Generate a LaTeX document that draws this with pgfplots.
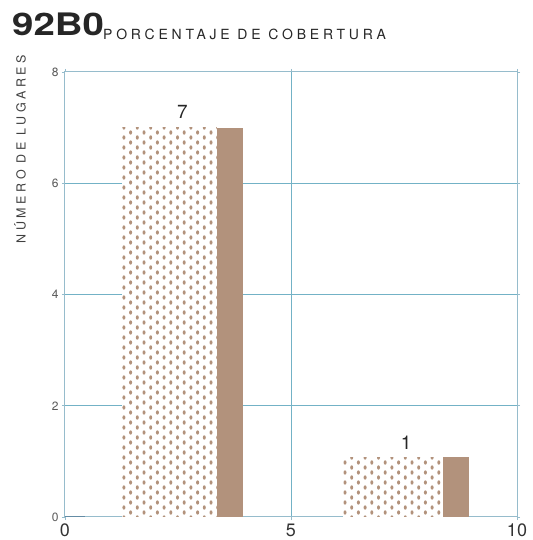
\documentclass[border=0pt]{standalone}
\usepackage{pgfplots}
\pgfplotsset{compat=1.18}
\usepackage{fontspec}
\setmainfont{TeX Gyre Heros}
\usetikzlibrary{patterns}
\definecolor{barbrown}{RGB}{178,146,124}
\definecolor{framec}{RGB}{150,188,204}
\definecolor{gridc}{RGB}{115,178,198}
\definecolor{zeroc}{RGB}{100,140,165}
\pgfdeclarepatternformonly{bdots}{\pgfqpoint{-1pt}{-1pt}}{\pgfqpoint{14.4pt}{11pt}}{\pgfqpoint{13.4pt}{10pt}}{%
  \pgfpathellipse{\pgfqpoint{3.3pt}{2.5pt}}{\pgfqpoint{1.5pt}{0pt}}{\pgfqpoint{0pt}{2.2pt}}\pgfusepath{fill}%
  \pgfpathellipse{\pgfqpoint{10pt}{7.5pt}}{\pgfqpoint{1.5pt}{0pt}}{\pgfqpoint{0pt}{2.2pt}}\pgfusepath{fill}%
}
\begin{document}
\begin{tikzpicture}
\useasboundingbox (-65pt,-23pt) rectangle (467pt,517pt);
\begin{axis}[
  scale only axis, width=452pt, height=445pt,
  xmin=0, xmax=10, ymin=0, ymax=8,
  xtick={0,5,10}, ytick={0,2,4,6,8},
  xmajorgrids, ymajorgrids,
  major grid style={draw=gridc, line width=1pt},
  axis line style={draw=framec, line width=1pt},
  tick style={draw=framec, line width=0.8pt},
  tick align=outside, major tick length=3pt,
  xticklabel style={font=\fontsize{18}{18}\selectfont, text=black!80},
  yticklabel style={font=\fontsize{12}{12}\selectfont, text=black!65},
  /pgf/number format/assume math mode=true,
  clip=false,
]
\addplot[draw=none, fill=white, postaction={pattern=bdots, pattern color=barbrown}] coordinates {(1.26,0) (1.26,7) (3.36,7) (3.36,0)} -- cycle;
\addplot[draw=none, fill=barbrown] coordinates {(3.36,0) (3.36,7) (3.94,7) (3.94,0)} -- cycle;
\addplot[draw=none, fill=white, postaction={pattern=bdots, pattern color=barbrown}] coordinates {(6.15,0) (6.15,1.07) (8.36,1.07) (8.36,0)} -- cycle;
\addplot[draw=none, fill=barbrown] coordinates {(8.36,0) (8.36,1.07) (8.94,1.07) (8.94,0)} -- cycle;
\addplot[draw=zeroc, line width=1pt] coordinates {(0,0) (0.45,0)};
\node[anchor=south, font=\fontsize{19}{19}\selectfont, text=black!85] at (axis cs:2.6,7.1) {7};
\node[anchor=south, font=\fontsize{19}{19}\selectfont, text=black!85] at (axis cs:7.55,1.15) {1};
\end{axis}
\node[anchor=base west, inner sep=0pt, text=black!85] at (-53pt,481pt) {\scalebox{1.24}[1]{\fontsize{31}{31}\selectfont\bfseries 92B0}};
\node[anchor=base west, inner sep=0pt, font=\fontsize{14}{14}\selectfont\addfontfeatures{LetterSpace=27}, text=black!85] at (38pt,477pt) {PORCENTAJE DE COBERTURA};
\node[rotate=90, anchor=east, inner sep=0pt, font=\fontsize{12.5}{12.5}\selectfont\addfontfeatures{LetterSpace=28}, text=black!75] at (-45pt,462pt) {NÚMERO DE LUGARES};
\end{tikzpicture}
\end{document}
